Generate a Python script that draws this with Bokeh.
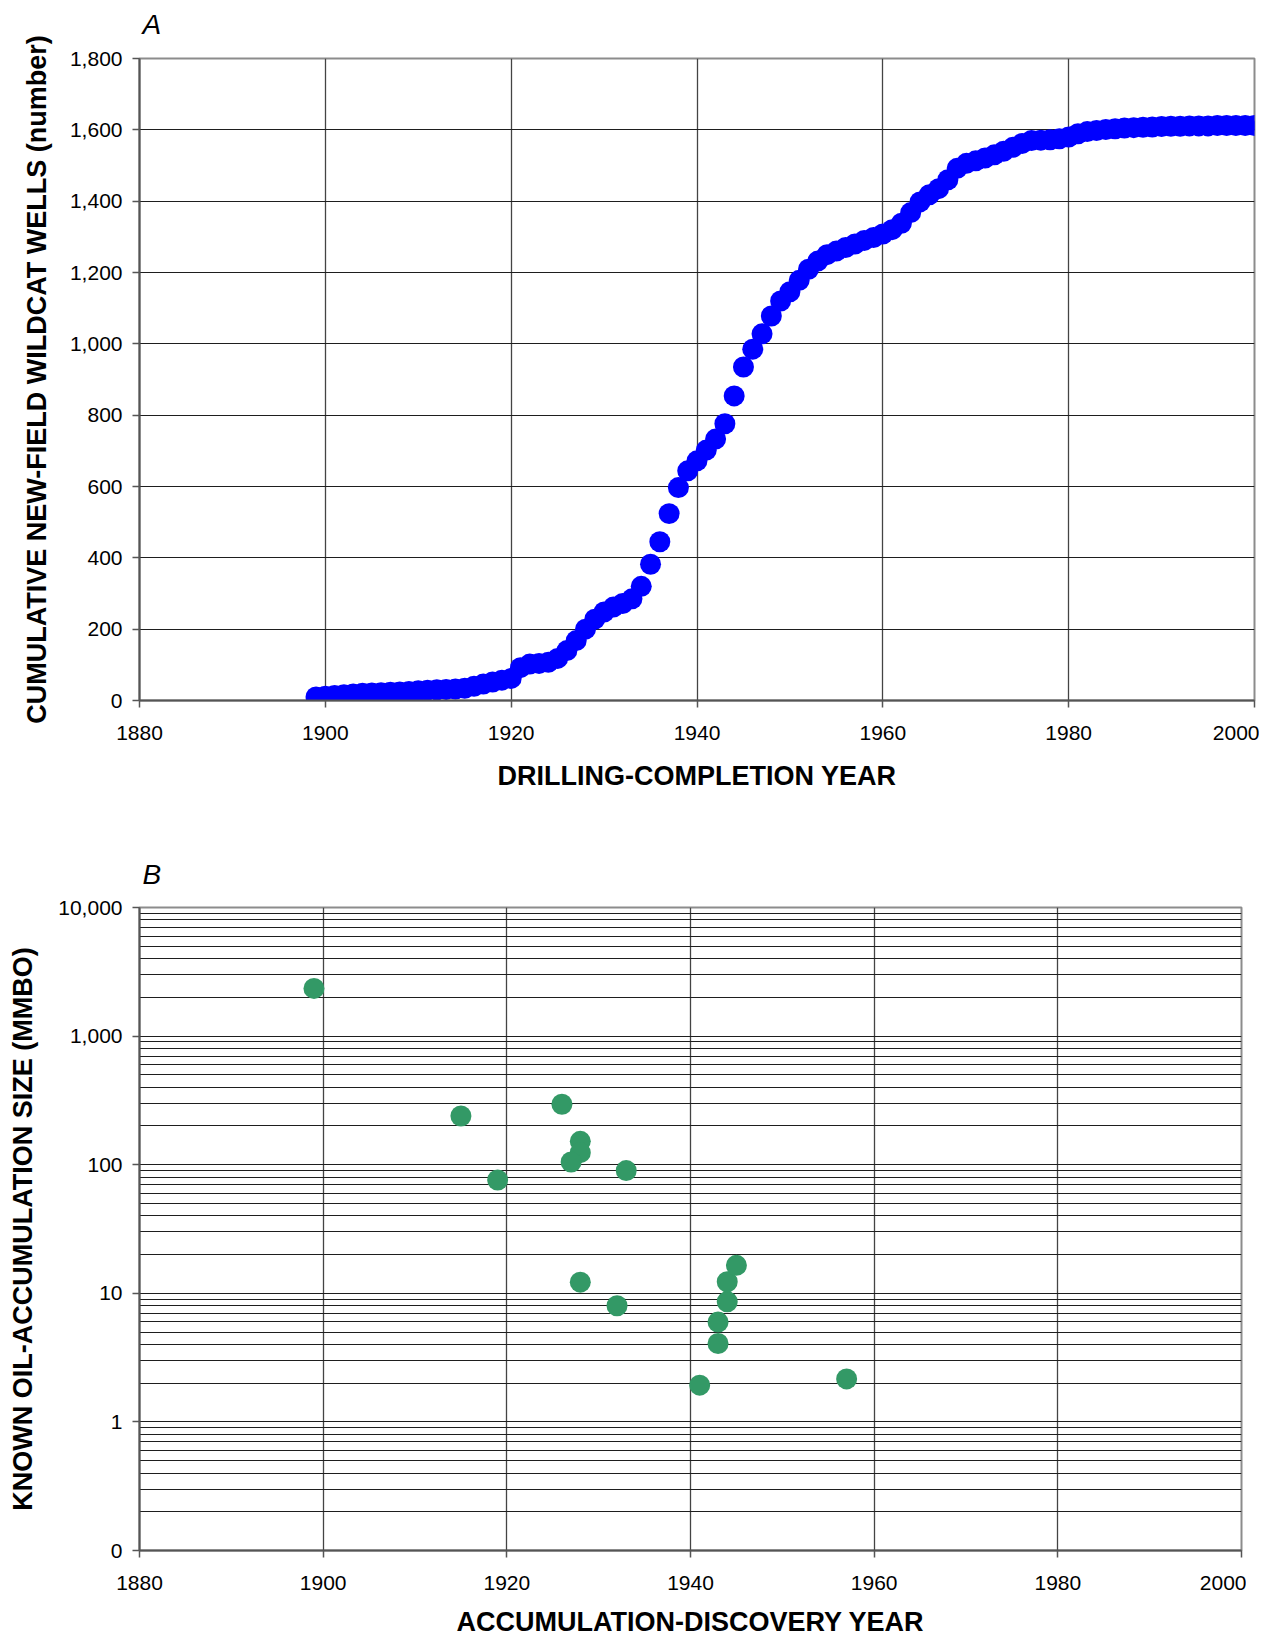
from bokeh.plotting import figure
from bokeh.models import (Range1d, FixedTicker, NumeralTickFormatter,
                          ColumnDataSource, Title)
from bokeh.layouts import column
from bokeh.embed import file_html
from bokeh.resources import INLINE

# ---------------- data ----------------
# Panel A: cumulative new-field wildcat wells by drilling-completion year
years = list(range(1899, 2001))
wells = [
    10, 12, 14, 16, 18, 20, 21, 22, 23, 24,          # 1899-1908
    25, 27, 29, 30, 31, 32, 34, 40, 46, 52,          # 1909-1918
    57, 62, 92, 102, 104, 107, 118, 140, 168, 200,   # 1919-1928
    228, 248, 262, 272, 285, 320, 382, 445, 524, 597,  # 1929-1938
    644, 672, 702, 733, 776, 854, 935, 985, 1028, 1078,  # 1939-1948
    1120, 1146, 1178, 1209, 1232, 1250, 1260, 1270, 1280, 1290,  # 1949-1958
    1298, 1308, 1320, 1338, 1368, 1398, 1418, 1435, 1460, 1492,  # 1959-1968
    1506, 1513, 1521, 1530, 1540, 1551, 1562, 1570, 1571, 1572,  # 1969-1978
    1575, 1580, 1589, 1595, 1598, 1601, 1603, 1605, 1606, 1607,  # 1979-1988
    1608, 1609, 1610, 1610, 1611, 1611, 1611, 1612, 1612, 1612,  # 1989-1998
    1612, 1612,                                       # 1999-2000
]

# Panel B: known oil-accumulation size (MMBO) by discovery year
disc_year = [1899, 1915, 1919, 1926, 1928, 1928, 1927, 1933, 1928, 1932,
             1941, 1943, 1943, 1944, 1944, 1945, 1957]
acc_size = [2350, 239, 76, 295, 152, 124, 105, 90, 12.2, 8.0,
            1.93, 4.07, 5.97, 8.6, 12.3, 16.5, 2.16]

x_ticks = [1880, 1900, 1920, 1940, 1960, 1980, 2000]
y_ticks_a = [0, 200, 400, 600, 800, 1000, 1200, 1400, 1600, 1800]
y_ticks_b = [0.1, 1, 10, 100, 1000, 10000]
y_labels_b = ["0", "1", "10", "100", "1,000", "10,000"]
y_minor_b = [m * d for d in [0.1, 1, 10, 100, 1000] for m in range(2, 10)]

TICK_FONT = "Liberation Sans"
TICK_SIZE = "21px"
TITLE_SIZE = "27px"
XGRID_COLOR = "#444444"
YGRID_COLOR = "#1e1e1e"


def style(p, y_title_standoff, x_title_standoff, spacer_standoff):
    p.outline_line_color = "#8c8c8c"
    p.outline_line_width = 2
    for ax in (p.xaxis[0], p.yaxis[0]):
        ax.axis_line_color = "#555555"
        ax.axis_line_width = 2
        ax.major_tick_line_color = "#555555"
        ax.major_tick_line_width = 1.5
        ax.major_tick_out = 7
        ax.major_tick_in = 0
        ax.minor_tick_line_color = None
        ax.major_label_text_font = TICK_FONT
        ax.major_label_text_font_size = TICK_SIZE
        ax.major_label_text_color = "black"
        ax.axis_label_text_font = TICK_FONT
        ax.axis_label_text_font_style = "bold"
        ax.axis_label_text_font_size = TITLE_SIZE
        ax.axis_label_text_color = "black"
    p.yaxis[0].major_label_standoff = 10
    p.xaxis[0].major_label_standoff = 18
    p.yaxis[0].axis_label_standoff = y_title_standoff
    p.xaxis[0].axis_label_standoff = x_title_standoff
    p.xgrid.grid_line_color = XGRID_COLOR
    p.xgrid.grid_line_width = 1.3
    p.ygrid.grid_line_color = YGRID_COLOR
    p.ygrid.grid_line_width = 1.2
    # panel letter (A / B)
    p.title.text_font = "Liberation Sans"
    p.title.text_font_style = "italic"
    p.title.text_font_size = "28px"
    p.title.text_color = "black"
    p.title.align = "left"
    p.title.vertical_align = "middle"
    p.title.offset = 3
    p.title.standoff = 0
    # blank gap between the panel letter and the plot box
    p.add_layout(Title(text=" ", text_font_size="10px",
                       standoff=spacer_standoff), "above")


# ---------------- panel A ----------------
p1 = figure(frame_width=1115, frame_height=642,
            output_backend="svg", toolbar_location=None,
            x_range=Range1d(1880, 2000), y_range=Range1d(0, 1800),
            min_border_left=139, min_border_right=5,
            min_border_top=58, min_border_bottom=100,
            title="A", x_axis_label="DRILLING-COMPLETION YEAR",
            y_axis_label="CUMULATIVE NEW-FIELD WILDCAT WELLS (number)")
src_a = ColumnDataSource(dict(x=years, y=wells))
p1.scatter("x", "y", source=src_a, size=21, fill_color="#0000FF",
           line_color=None)
p1.xaxis[0].ticker = FixedTicker(ticks=x_ticks)
p1.yaxis[0].ticker = FixedTicker(ticks=y_ticks_a)
p1.yaxis[0].formatter = NumeralTickFormatter(format="0,0")
style(p1, 15, 18, 5)

# ---------------- panel B ----------------
p2 = figure(frame_width=1102, frame_height=643,
            output_backend="svg", toolbar_location=None,
            x_range=Range1d(1880, 2000), y_range=Range1d(0.1, 10000),
            y_axis_type="log",
            min_border_left=139, min_border_right=5,
            min_border_top=107, min_border_bottom=88,
            title="B", x_axis_label="ACCUMULATION-DISCOVERY YEAR",
            y_axis_label="KNOWN OIL-ACCUMULATION SIZE (MMBO)")
src_b = ColumnDataSource(dict(x=disc_year, y=acc_size))
p2.scatter("x", "y", source=src_b, size=21, fill_color="#339966",
           line_color=None)
p2.xaxis[0].ticker = FixedTicker(ticks=x_ticks)
p2.yaxis[0].ticker = FixedTicker(ticks=y_ticks_b, minor_ticks=y_minor_b)
p2.yaxis[0].major_label_overrides = {t: lab for t, lab in zip(y_ticks_b, y_labels_b)}
style(p2, 17, 14, 3.5)
p2.ygrid.minor_grid_line_color = YGRID_COLOR
p2.ygrid.minor_grid_line_width = 1.2

layout = column(p1, p2)
open("out.html", "w").write(file_html(layout, INLINE))
